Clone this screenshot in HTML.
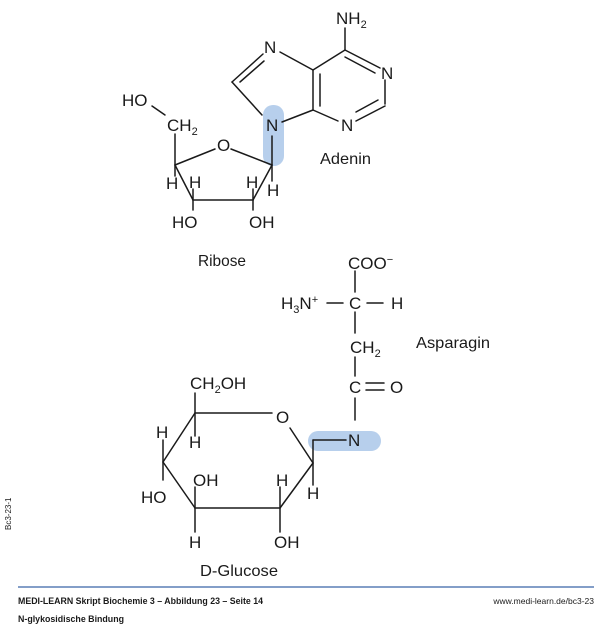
<!DOCTYPE html>
<html><head><meta charset="utf-8"><style>
html,body{margin:0;padding:0;background:#fff;}
svg{display:block;}
text{font-family:"Liberation Sans",sans-serif;fill:#1a1a1a;}
</style></head><body>
<svg width="600" height="626" viewBox="0 0 600 626" xmlns="http://www.w3.org/2000/svg">
<!-- highlights -->
<rect x="263" y="105" width="21" height="61" rx="10" fill="#b7cfec"/>
<rect x="308" y="431" width="73" height="20" rx="10" fill="#b7cfec"/>
<g stroke="#1a1a1a" stroke-width="1.5" fill="none" stroke-linecap="round">
<!-- adenine -->
<line x1="345" y1="28" x2="345" y2="50"/>
<line x1="345" y1="50" x2="313" y2="70"/>
<line x1="345" y1="50" x2="380" y2="68"/>
<line x1="345" y1="57" x2="375" y2="73"/>
<line x1="385" y1="80" x2="385" y2="104"/>
<line x1="385" y1="106" x2="356" y2="121"/>
<line x1="378" y1="100" x2="356" y2="112"/>
<line x1="338" y1="121" x2="313" y2="110"/>
<line x1="313" y1="70" x2="313" y2="110"/>
<line x1="320" y1="74" x2="320" y2="106"/>
<line x1="313" y1="70" x2="280" y2="52"/>
<line x1="263" y1="54" x2="232" y2="82"/>
<line x1="264" y1="61" x2="240" y2="82"/>
<line x1="232" y1="82" x2="262" y2="115"/>
<line x1="313" y1="110" x2="282" y2="122"/>
<line x1="272" y1="136" x2="272" y2="165"/>
<!-- ribose -->
<line x1="152" y1="106" x2="165" y2="115"/>
<line x1="175" y1="134" x2="175" y2="165"/>
<line x1="175" y1="165" x2="215" y2="149"/>
<line x1="231" y1="149" x2="272" y2="165"/>
<line x1="175" y1="165" x2="193" y2="200"/>
<line x1="272" y1="165" x2="253" y2="200"/>
<line x1="193" y1="200" x2="253" y2="200"/>
<line x1="175" y1="165" x2="175" y2="176"/>
<line x1="193" y1="200" x2="193" y2="189"/>
<line x1="253" y1="200" x2="253" y2="189"/>
<line x1="272" y1="165" x2="272" y2="181"/>
<line x1="193" y1="200" x2="193" y2="210"/>
<line x1="253" y1="200" x2="253" y2="210"/>
<!-- asparagine -->
<line x1="355" y1="271" x2="355" y2="292"/>
<line x1="327" y1="303" x2="343" y2="303"/>
<line x1="367" y1="303" x2="383" y2="303"/>
<line x1="355" y1="312" x2="355" y2="333"/>
<line x1="355" y1="357" x2="355" y2="376"/>
<line x1="366" y1="383" x2="384" y2="383"/>
<line x1="366" y1="390" x2="384" y2="390"/>
<line x1="355" y1="398" x2="355" y2="420"/>
<!-- glucose -->
<line x1="195" y1="393" x2="195" y2="436"/>
<line x1="195" y1="413" x2="272" y2="413"/>
<line x1="290" y1="428" x2="313" y2="463"/>
<line x1="313" y1="463" x2="313" y2="440"/>
<line x1="313" y1="440" x2="346" y2="440"/>
<line x1="313" y1="463" x2="280" y2="508"/>
<line x1="280" y1="508" x2="195" y2="508"/>
<line x1="195" y1="508" x2="163" y2="462"/>
<line x1="163" y1="462" x2="195" y2="413"/>
<line x1="313" y1="463" x2="313" y2="485"/>
<line x1="280" y1="508" x2="280" y2="487"/>
<line x1="280" y1="508" x2="280" y2="532"/>
<line x1="195" y1="508" x2="195" y2="487"/>
<line x1="195" y1="508" x2="195" y2="532"/>
<line x1="163" y1="462" x2="163" y2="440"/>
<line x1="163" y1="462" x2="163" y2="480"/>
</g>
<g font-size="17">
<text x="336" y="24">NH<tspan font-size="11" dy="4">2</tspan></text>
<text x="264" y="53">N</text>
<text x="381" y="79">N</text>
<text x="341" y="131">N</text>
<text x="266" y="131">N</text>
<text x="122" y="106">HO</text>
<text x="167" y="131">CH<tspan font-size="11" dy="4">2</tspan></text>
<text x="217" y="151">O</text>
<text x="166" y="189">H</text>
<text x="189" y="188">H</text>
<text x="246" y="188">H</text>
<text x="267" y="196">H</text>
<text x="172" y="228">HO</text>
<text x="249" y="228">OH</text>
<text x="348" y="269">COO<tspan font-size="11" dy="-6">−</tspan></text>
<text x="281" y="309">H<tspan font-size="11" dy="4">3</tspan><tspan dy="-4">N</tspan><tspan font-size="11" dy="-6">+</tspan></text>
<text x="349" y="309">C</text>
<text x="391" y="309">H</text>
<text x="350" y="353">CH<tspan font-size="11" dy="4">2</tspan></text>
<text x="349" y="393">C</text>
<text x="390" y="393">O</text>
<text x="348" y="446">N</text>
<text x="190" y="389">CH<tspan font-size="11" dy="4">2</tspan><tspan dy="-4">OH</tspan></text>
<text x="276" y="423">O</text>
<text x="156" y="438">H</text>
<text x="189" y="448">H</text>
<text x="193" y="486">OH</text>
<text x="276" y="486">H</text>
<text x="141" y="503">HO</text>
<text x="307" y="499">H</text>
<text x="189" y="548">H</text>
<text x="274" y="548">OH</text>
</g>
<g font-size="16">
<text x="320" y="164" textLength="51" lengthAdjust="spacingAndGlyphs">Adenin</text>
<text x="198" y="266" textLength="48" lengthAdjust="spacingAndGlyphs">Ribose</text>
<text x="416" y="348" textLength="74" lengthAdjust="spacingAndGlyphs">Asparagin</text>
<text x="200" y="576" textLength="78" lengthAdjust="spacingAndGlyphs">D-Glucose</text>
</g>
<text x="0" y="0" font-size="8" transform="translate(11,530) rotate(-90)" fill="#444">Bc3-23-1</text>
<line x1="18" y1="587" x2="594" y2="587" stroke="#5a7fb5" stroke-width="1.5"/>
<text x="18" y="604" font-size="9.5" font-weight="bold" textLength="245" lengthAdjust="spacingAndGlyphs">MEDI-LEARN Skript Biochemie 3 – Abbildung 23 – Seite 14</text>
<text x="18" y="622" font-size="9.5" font-weight="bold" textLength="106" lengthAdjust="spacingAndGlyphs">N-glykosidische Bindung</text>
<text x="594" y="604" font-size="8.5" text-anchor="end" fill="#444">www.medi-learn.de/bc3-23</text>
</svg>
</body></html>
